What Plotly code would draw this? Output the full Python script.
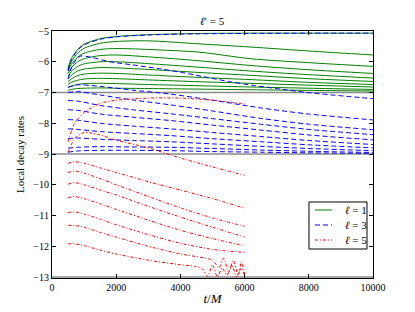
import plotly.graph_objects as go

# ---- data ----
green_t = [500, 600, 800, 1000, 1500, 2000, 3000, 4610, 6170, 8000, 10000]
green_values = [
    [-6.20, -5.90, -5.60, -5.43, -5.25, -5.18, -5.12, -5.08, -5.07, -5.07, -5.07],
    [-6.25, -6.00, -5.72, -5.56, -5.40, -5.34, -5.32, -5.42, -5.52, -5.65, -5.78],
    [-6.30, -6.08, -5.85, -5.72, -5.60, -5.57, -5.60, -5.69, -5.90, -6.03, -6.15],
    [-6.38, -6.20, -6.00, -5.90, -5.80, -5.78, -5.84, -5.97, -6.12, -6.26, -6.38],
    [-6.47, -6.32, -6.15, -6.07, -6.00, -6.00, -6.06, -6.18, -6.30, -6.42, -6.53],
    [-6.56, -6.44, -6.30, -6.24, -6.19, -6.20, -6.25, -6.35, -6.44, -6.55, -6.64],
    [-6.65, -6.56, -6.45, -6.40, -6.37, -6.38, -6.43, -6.51, -6.58, -6.67, -6.74],
    [-6.74, -6.67, -6.60, -6.56, -6.54, -6.55, -6.59, -6.65, -6.70, -6.76, -6.82],
    [-6.83, -6.79, -6.74, -6.71, -6.70, -6.71, -6.74, -6.78, -6.82, -6.86, -6.90],
    [-6.93, -6.90, -6.87, -6.86, -6.85, -6.86, -6.87, -6.89, -6.91, -6.93, -6.95],
]

blue_top_t = [500, 600, 800, 1000, 1500, 2000, 3000, 4000, 6000, 8000, 10000]
blue_top_values = [-6.29, -5.95, -5.62, -5.45, -5.27, -5.19, -5.13, -5.10, -5.08, -5.07, -5.07]

blue_second_t = [500, 650, 870, 1200, 1800, 2500, 3360, 4000, 4800, 5500, 6270, 7200, 7950, 10000]
blue_second_values = [-6.56, -6.10, -5.82, -5.85, -6.00, -6.10, -6.23, -6.34, -6.50, -6.64, -6.77, -6.90, -7.00, -7.20]

blue_t = [500, 800, 1500, 2500, 3680, 5000, 6500, 8000, 10000]
blue_values = [
    [-6.83, -6.75, -6.80, -6.92, -7.05, -7.25, -7.50, -7.70, -7.89],
    [-7.00, -6.97, -7.08, -7.24, -7.40, -7.60, -7.84, -8.03, -8.21],
    [-7.26, -7.28, -7.42, -7.56, -7.69, -7.85, -8.03, -8.20, -8.37],
    [-7.56, -7.58, -7.70, -7.80, -7.91, -8.06, -8.22, -8.38, -8.54],
    [-7.88, -7.90, -8.00, -8.09, -8.18, -8.30, -8.43, -8.56, -8.69],
    [-8.18, -8.20, -8.27, -8.33, -8.40, -8.50, -8.60, -8.70, -8.80],
    [-8.50, -8.48, -8.52, -8.56, -8.60, -8.67, -8.75, -8.82, -8.89],
    [-8.81, -8.78, -8.76, -8.77, -8.78, -8.82, -8.87, -8.91, -8.95],
    [-8.94, -8.90, -8.88, -8.88, -8.89, -8.92, -8.94, -8.96, -8.98],
]

red_t = [500, 700, 1000, 1500, 2000, 3000, 4000, 5000, 6000]
red_values = [
    [-8.60, -8.00, -7.65, -7.35, -7.25, -7.18, -7.18, -7.25, -7.37],
    [-8.95, -8.50, -8.30, -8.38, -8.55, -8.80, -9.13, -9.42, -9.69],
    [-9.30, -9.25, -9.30, -9.45, -9.60, -9.90, -10.17, -10.45, -10.76],
    [-9.60, -9.55, -9.62, -9.80, -10.00, -10.38, -10.75, -11.08, -11.35],
    [-9.98, -9.93, -10.00, -10.17, -10.33, -10.70, -11.05, -11.38, -11.70],
    [-10.42, -10.38, -10.45, -10.62, -10.80, -11.15, -11.48, -11.75, -11.98],
    [-10.90, -10.88, -10.95, -11.12, -11.30, -11.62, -11.90, -12.10, -12.20],
]
red_noisy_a_t = [500, 700, 1000, 1500, 2000, 3000, 4000, 5000, 5200, 5350, 5500, 5650, 5800, 5900, 6000]
red_noisy_a_values = [-11.32, -11.32, -11.38, -11.55, -11.70, -12.00, -12.25, -12.45,
                      -12.70, -12.38, -12.85, -12.45, -12.95, -12.50, -12.90]
red_noisy_b_t = [500, 700, 1000, 1500, 2000, 3000, 4000, 4500, 4700, 4850, 5000,
                 5150, 5300, 5450, 5600, 5750, 5900, 6000]
red_noisy_b_values = [-11.92, -11.92, -11.98, -12.12, -12.25, -12.45, -12.60, -12.66, -12.75,
                      -12.98, -12.60, -13.00, -12.70, -12.95, -12.60, -13.00, -12.70, -12.98]

guide_levels = [-7, -9, -13]
x_ticks = [0, 2000, 4000, 6000, 8000, 10000]
y_ticks = [-5, -6, -7, -8, -9, -10, -11, -12, -13]
legend_labels = ["<i>ℓ</i> = 1", "<i>ℓ</i> = 3", "<i>ℓ</i> = 5"]

# ---- figure ----
fig = go.Figure()

for lv in guide_levels:
    fig.add_trace(go.Scatter(x=[0, 10000], y=[lv, lv], mode="lines",
                             line=dict(color="#8c8c8c", width=1.5),
                             showlegend=False, hoverinfo="skip"))

GREEN = "#008000"
BLUE = "#0000ff"
RED = "#ff0000"
FAM = "Liberation Serif"
BLUE_DASH = "5px,3px"
RED_DASH = "3px,2px,1px,2px"

for i, vals in enumerate(green_values):
    fig.add_trace(go.Scatter(x=green_t, y=vals, mode="lines",
                             line=dict(color=GREEN, width=1, shape="spline", smoothing=0.8),
                             showlegend=False))

blue_series = [(blue_top_t, blue_top_values), (blue_second_t, blue_second_values)] + \
              [(blue_t, v) for v in blue_values]
for i, (tt, vals) in enumerate(blue_series):
    fig.add_trace(go.Scatter(x=tt, y=vals, mode="lines",
                             line=dict(color=BLUE, width=1, dash=BLUE_DASH, shape="spline", smoothing=0.8),
                             showlegend=False))

red_series = [(red_t, v) for v in red_values] + \
             [(red_noisy_a_t, red_noisy_a_values), (red_noisy_b_t, red_noisy_b_values)]
for i, (tt, vals) in enumerate(red_series):
    fig.add_trace(go.Scatter(x=tt, y=vals, mode="lines",
                             line=dict(color=RED, width=1, dash=RED_DASH, shape="spline", smoothing=0.6),
                             showlegend=False))

# ---- legend box drawn in paper coordinates ----
shapes = [dict(type="rect", xref="paper", yref="paper", x0=0.8006, x1=0.9813, y0=0.1174, y1=0.3077,
               line=dict(color="black", width=1), fillcolor="white", layer="above")]
annotations = []
row_y = [0.2753, 0.2146, 0.1538]
row_style = [(GREEN, "solid"), (BLUE, BLUE_DASH), (RED, RED_DASH)]
for yv, (col, dsh), lab in zip(row_y, row_style, legend_labels):
    shapes.append(dict(type="line", xref="paper", yref="paper", x0=0.8193, x1=0.8723, y0=yv, y1=yv,
                       line=dict(color=col, width=1, dash=dsh), layer="above"))
    annotations.append(dict(xref="paper", yref="paper", x=0.905, y=yv, xanchor="left", yanchor="middle",
                            text=lab, showarrow=False, font=dict(family=FAM, size=11)))

annotations.append(dict(xref="paper", yref="paper", x=0.5, y=1, xanchor="center", yanchor="bottom",
                        yshift=2, text="<i>ℓ</i>′ = 5", showarrow=False, font=dict(family=FAM, size=11)))

fig.update_layout(
    width=415, height=312,
    margin=dict(l=52, r=42, t=31, b=34, autoexpand=False),
    paper_bgcolor="white", plot_bgcolor="white",
    font=dict(family=FAM, size=11, color="black"),
    showlegend=False,
    shapes=shapes, annotations=annotations,
)
fig.update_xaxes(range=[0, 10000], tickvals=x_ticks, ticktext=[str(v) for v in x_ticks],
                 automargin=False,
                 showgrid=False, zeroline=False, showline=True, linecolor="black", linewidth=1,
                 mirror="ticks", ticks="inside", ticklen=4, tickcolor="black",
                 title=dict(text="<i>t</i>/<i>M</i>", font=dict(family=FAM, size=13), standoff=1),
                 tickfont=dict(family=FAM, size=10))
fig.update_yaxes(range=[-13.03, -5], tickvals=y_ticks,
                 ticktext=["\u2212" + str(abs(v)) for v in y_ticks],
                 automargin=False,
                 showgrid=False, zeroline=False, showline=True, linecolor="black", linewidth=1,
                 mirror="ticks", ticks="inside", ticklen=4, tickcolor="black",
                 title=dict(text="Local decay rates", font=dict(family=FAM, size=11), standoff=6),
                 tickfont=dict(family=FAM, size=10))

fig.write_html("out.html", config={"displayModeBar": False},
               post_script="document.body.style.margin='0';document.body.style.overflow='hidden';")
